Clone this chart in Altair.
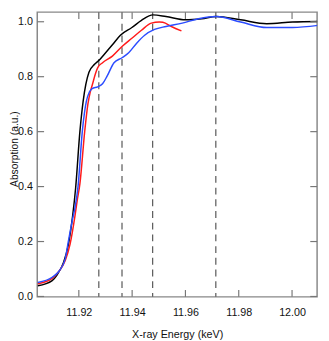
import altair as alt
import pandas as pd

# ---- data ----
black_x = [11.9046, 11.9100, 11.9118, 11.9143, 11.9161, 11.9177, 11.9188, 11.9204, 11.9216,
           11.9238, 11.9259, 11.9277, 11.9295, 11.9326, 11.9356, 11.9399, 11.9435, 11.9478,
           11.9527, 11.9600, 11.9661, 11.9716, 11.9807, 11.9905, 12.0002, 12.0099]
black_y = [0.039, 0.058, 0.078, 0.125, 0.190, 0.295, 0.395, 0.600, 0.709,
           0.816, 0.845, 0.861, 0.881, 0.916, 0.951, 0.979, 1.005, 1.025,
           1.019, 1.007, 1.011, 1.019, 1.007, 0.993, 0.999, 1.001]

red_x = [11.9046, 11.9100, 11.9124, 11.9149, 11.9167, 11.9185, 11.9194, 11.9204, 11.9222,
         11.9234, 11.9243, 11.9252, 11.9262, 11.9271, 11.9289, 11.9326, 11.9362, 11.9399,
         11.9435, 11.9472, 11.9502, 11.9515, 11.9551, 11.9585]
red_y = [0.046, 0.066, 0.090, 0.131, 0.190, 0.290, 0.350, 0.410, 0.600,
         0.700, 0.745, 0.775, 0.810, 0.833, 0.851, 0.875, 0.910, 0.940,
         0.969, 0.995, 0.999, 0.998, 0.981, 0.967]

blue_x = [11.9046, 11.9100, 11.9124, 11.9149, 11.9161, 11.9177, 11.9185, 11.9197, 11.9213,
          11.9228, 11.9240, 11.9250, 11.9271, 11.9289, 11.9307, 11.9332, 11.9362, 11.9387,
          11.9417, 11.9447, 11.9484, 11.9527, 11.9588, 11.9649, 11.9716, 11.9807, 11.9905,
          12.0002, 12.0099]
blue_y = [0.051, 0.070, 0.090, 0.137, 0.202, 0.284, 0.320, 0.400, 0.600,
          0.709, 0.745, 0.757, 0.763, 0.774, 0.804, 0.851, 0.869, 0.887,
          0.922, 0.951, 0.972, 0.983, 0.995, 1.011, 1.019, 0.999, 0.979,
          0.979, 0.987]

dashed_x = [11.9275, 11.9362, 11.9477, 11.9714]
x_ticks = [11.92, 11.94, 11.96, 11.98, 12.00]
y_ticks = [0.0, 0.2, 0.4, 0.6, 0.8, 1.0]

series_names = ["black", "red", "blue"]
series_colors = ["#000000", "#ff1a1a", "#2b4cff"]

rows = []
for name, xs, ys in zip(series_names, [black_x, red_x, blue_x], [black_y, red_y, blue_y]):
    for i, (xv, yv) in enumerate(zip(xs, ys)):
        rows.append({"series": name, "E": xv, "A": yv, "order": i})
df = pd.DataFrame(rows)

W, H = 287, 292
xdom = [11.9044, 12.0094]
ydom = [-0.0014, 1.035]
FONT = "Liberation Sans"

xscale = alt.Scale(domain=xdom, nice=False, zero=False)
yscale = alt.Scale(domain=ydom, nice=False, zero=False)

lines = alt.Chart(df).mark_line(strokeWidth=1.5, interpolate="monotone", clip=True).encode(
    x=alt.X("E:Q", scale=xscale,
            axis=alt.Axis(title="X-ray Energy (keV)", values=x_ticks, format=".2f",
                          ticks=False, domain=False, grid=False, labelPadding=10,
                          titlePadding=12, labelFontSize=11, titleFontSize=11,
                          labelFont=FONT, titleFont=FONT, titleFontWeight="normal",
                          labelColor="#111", titleColor="#111")),
    y=alt.Y("A:Q", scale=yscale,
            axis=alt.Axis(title="Absorption (a.u.)", values=y_ticks, format=".1f",
                          ticks=False, domain=False, grid=False, labelPadding=5,
                          titleX=-23.5, titleY=H / 2 - 6, titleAngle=270,
                          titleBaseline="middle", titleAlign="center",
                          labelFontSize=11, titleFontSize=10.5,
                          labelFont=FONT, titleFont=FONT, titleFontWeight="normal",
                          labelColor="#111", titleColor="#111")),
    color=alt.Color("series:N", scale=alt.Scale(domain=series_names, range=series_colors),
                    legend=None),
    detail="series:N",
    order="order:Q",
)

dash_df = pd.DataFrame({"E": dashed_x})
dashes = alt.Chart(dash_df).mark_rule(color="#555555", strokeWidth=1.2,
                                      strokeDash=[7, 5]).encode(
    x=alt.X("E:Q", scale=xscale))

xt = pd.DataFrame({"E": x_ticks})
yt = pd.DataFrame({"A": y_ticks})
tick_style = dict(color="#777777", strokeWidth=1.2)
xt_bottom = alt.Chart(xt).mark_rule(**tick_style).encode(
    x=alt.X("E:Q", scale=xscale), y=alt.value(H), y2=alt.value(H - 7))
xt_top = alt.Chart(xt).mark_rule(**tick_style).encode(
    x=alt.X("E:Q", scale=xscale), y=alt.value(0), y2=alt.value(7))
yt_left = alt.Chart(yt).mark_rule(**tick_style).encode(
    y=alt.Y("A:Q", scale=yscale), x=alt.value(0), x2=alt.value(7))
yt_right = alt.Chart(yt).mark_rule(**tick_style).encode(
    y=alt.Y("A:Q", scale=yscale), x=alt.value(W), x2=alt.value(W - 7))

chart = alt.layer(dashes, lines, xt_bottom, xt_top, yt_left, yt_right).properties(
    width=W, height=H,
    autosize=alt.AutoSizeParams(type="none"),
    padding={"left": 30, "top": 0, "right": 4, "bottom": 40},
    background="white",
).configure_view(stroke="#888888", strokeWidth=1.5)

chart.save("out.html", embed_options={"renderer": "svg", "actions": False})
